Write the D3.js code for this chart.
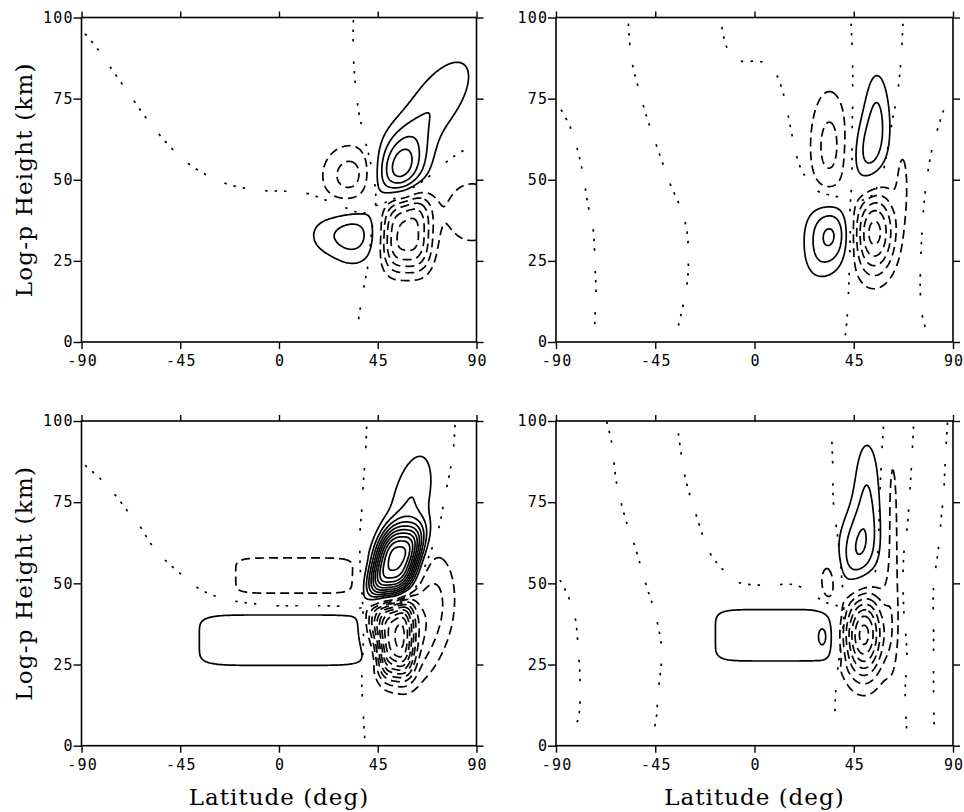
<!DOCTYPE html>
<html>
<head>
<meta charset="utf-8">
<script src="https://cdn.jsdelivr.net/npm/d3@7"></script>
<style>
  html, body { margin: 0; padding: 0; background: #fff; }
  svg { display: block; }
  .tick text { font-family: "DejaVu Sans Mono", monospace; font-size: 15px; letter-spacing: 1.2px;
               font-variant-numeric: slashed-zero; fill: #000; }
  .tick line { stroke: #000; stroke-width: 1.4px; }
  .title { font-family: "DejaVu Serif", serif; font-size: 23px; fill: #000; }
</style>
</head>
<body>
<svg id="chart" width="964" height="812"></svg>
<script>
// ---- axis ticks ----
const latMinorTicks = [-90, -75, -60, -45, -30, -15, 0, 15, 30, 45, 60, 75, 90];
const latMajorTicks = [-90, -45, 0, 45, 90];
const zMinorTicks = [0, 12.5, 25, 37.5, 50, 62.5, 75, 87.5, 100];
const zMajorTicks = [0, 25, 50, 75, 100];

// ---- field components: [lat, height, amplitude, latWidth, heightWidth, tilt, exponent] ----
const blobsA = [
  [55, 53, 4.6, 8, 8, 0.3],
  [72, 74, 1.85, 10, 11, 0.75],
  [34, 33, 2.4, 8, 6.5],
  [20, 33, 1.0, 7, 5],
  [33, 51, -2.6, 9.5, 7],
  [58, 34, -5.5, 9, 10, 0, 3],
  [88, 40, -1.6, 12, 9]
];
const blobsB = [
  [52, 58, 2.5, 6, 10, 0.15],
  [55.5, 74, 1.3, 4, 9],
  [34, 60, -2.4, 6.5, 13],
  [34.5, 33.5, 3.5, 7.5, 7.5],
  [28, 24, 0.6, 5, 5],
  [54, 34, -5.6, 7, 9.5],
  [67, 50, -1.4, 2, 8]
];
const blobsC = [
  [2, 32.5, 1.85, 37, 7.5, 0, 6],
  [7, 52.4, -1.6, 27, 5.5, 0, 6],
  [53, 56, 10, 8, 9, 0.4, 3],
  [60, 75, 2, 7, 12, 0.3],
  [53, 33.5, -8, 6.5, 10, 0, 3],
  [60, 34, -3, 8, 10],
  [43, 39, -3, 3.5, 5.5],
  [72, 46, -1.8, 7, 11]
];
const blobsD = [
  [9.5, 34, 1.6, 27.5, 8, 0, 6],
  [31.5, 33.6, 0.9, 2.5, 3.5],
  [47, 59, 3.0, 6.5, 10, 0.1],
  [51, 80, 1.7, 4.5, 12],
  [49.5, 34.5, -7.5, 6.5, 9.5],
  [62.5, 62, -1.5, 2.5, 28],
  [33.6, 51, -1.6, 3.5, 5.5]
];

// ---- zero contours: [lat, height] ----
const zeroA = [
  [[-88.4,95],[-82.3,90],[-77,84.8],[-71.7,79.7],[-66.4,74.6],[-61,69.4],[-55,64.3],[-48.9,59.7],[-41.3,55],[-34.5,52],[-24.6,48.9],[-16.3,47.5],[-5.6,46.6],[2,46.5],[12.6,45.8],[21,43.8],[29.3,41.7],[38.4,39.7],[44,42]],
  [[33.9,99.2],[33.9,88],[36.2,71.5],[39.2,62.2],[41.5,56],[43.8,47.9],[44,42],[42.3,34.5],[40.7,24.3],[38.4,16],[36.2,6.8]],
  [[44,42],[52,44],[62,48],[70.3,52],[79.4,57.1],[88.6,60.7]]
];
const zeroB = [
  [[-87.7,71.6],[-83.6,66.3],[-80.6,60.1],[-78.4,53.9],[-75.3,41.6],[-73.1,34.4],[-72.3,23.1],[-71.9,15.9],[-72.6,4.1]],
  [[-57.2,98.1],[-55.7,86.8],[-51.9,76.5],[-48.9,69.4],[-45.8,63.2],[-42.1,56],[-38.3,48.8],[-33.7,41.6],[-30.7,34.4],[-30,23.1],[-31,15.9],[-34.5,5.1]],
  [[-14.8,97.1],[-12.6,90.9],[-8,87],[-5.8,86.5],[3.3,86.3],[8,84],[10.1,82.2],[13.1,76.5],[15.4,69.4],[16.9,64.2],[19.2,57],[22.2,51.9],[28.3,46.7],[36,45],[43.5,44]],
  [[43.8,98.1],[44.5,84.8],[44.5,74.5],[44.2,62.2],[44.2,50.9],[43.4,41.6],[43.4,33.4],[42.6,14.9],[41.9,6.7],[41.1,1.5]],
  [[67.3,98.1],[66.4,86.8],[64.6,75.5],[62.8,69.4],[61,62],[58,52],[53,45],[48,43.5]],
  [[85.7,71.4],[80.4,59.1],[77.4,46.2],[75.9,33.4],[75.2,21.1],[75.2,14.9],[75.9,8.7],[78.2,2.6]]
];
const zeroC = [
  [[-88.4,86.4],[-80.8,81.8],[-74,76.7],[-69.4,72.6],[-63.3,67.5],[-58,61.8],[-52,57.2],[-45.1,53.1],[-36.8,48.5],[-29.2,46.1],[-19.3,44.4],[-11.7,43.8],[-1.1,43.1],[5,43.1],[18.7,43.1],[26.3,43],[30.8,42.9],[36.1,42.3],[40,43]],
  [[39.9,98.3],[39.5,90.6],[38.4,80.8],[37.7,72.6],[36.9,65.4],[37,55],[38,45],[38.5,35],[38,25],[37.7,19.2],[38.4,10],[39.2,0.7]],
  [[80.2,98.8],[79.5,91.6],[78,84.9],[75.6,76.7],[72.6,66.4],[68.8,59.2],[65.8,54.1],[61,47.5],[55,44.5]]
];
const zeroD = [
  [[-88.2,51],[-84.4,45.9],[-81.4,39.7],[-79.9,29.5],[-79.1,19.2],[-79.9,8.4],[-84.4,1.7]],
  [[-67,99.8],[-64.7,93.1],[-62.5,80.8],[-57.9,68.5],[-54.2,61.3],[-48.9,49],[-45.1,40.8],[-42.1,29.5],[-43.6,17.1],[-45.8,4.8],[-50.4,1.2]],
  [[-34.5,96.2],[-31.5,82.9],[-26.2,70.5],[-20.1,59.2],[-14.1,54.1],[-8,50.5],[-0.5,49.5],[7.1,49.5],[18.4,49.5],[26,46.9],[31.3,44.4],[38,43]],
  [[35.1,93.6],[35.5,85.9],[35.8,74.6],[38.1,62.3],[39.5,52],[40.5,43],[40,35],[38,25],[36.6,14.1],[36.6,6.4]],
  [[58.5,98.3],[57.8,91.1],[57,80],[56.5,70],[56,60],[54,50]],
  [[72.1,98.3],[70.6,79.8],[69.1,66.4],[67.6,58.2],[67.6,42.8],[69.1,28.4],[68.3,16.1],[69.1,3.8]],
  [[87.5,99.5],[86.5,88],[85.7,76.7],[85,72.6],[83.5,61.3],[81.2,49],[81.2,34.6],[81.2,16.1],[81.5,4.8]]
];

const xTitle = "Latitude (deg)";
const yTitle = "Log-p Height (km)";

// ---- layout ----
const panels = [
  { blobs: blobsA, zero: zeroA, left: 81.5, top: 17.5, width: 395, height: 324.5, yTitle: true,  xTitle: false },
  { blobs: blobsB, zero: zeroB, left: 556,  top: 17.5, width: 397, height: 324.5, yTitle: false, xTitle: false },
  { blobs: blobsC, zero: zeroC, left: 81.5, top: 421,  width: 395, height: 324.7, yTitle: true,  xTitle: true },
  { blobs: blobsD, zero: zeroD, left: 556,  top: 421,  width: 397, height: 324.7, yTitle: false, xTitle: true }
];

const svg = d3.select("#chart");
const LS = 1.2; // tick label letter spacing

function fieldAt(blobs, lat, z) {
  let v = 0;
  for (const [la, zc, a, sx, sz, tilt = 0, p = 2] of blobs) {
    const dx = (lat - (la + tilt * (z - zc))) / sx;
    const dz = (z - zc) / sz;
    v += a * Math.exp(-0.5 * (Math.pow(Math.abs(dx), p) + Math.pow(Math.abs(dz), p)));
  }
  return v;
}

panels.forEach((P, k) => {
  const x = d3.scaleLinear().domain([-90, 90]).range([P.left, P.left + P.width]);
  const y = d3.scaleLinear().domain([0, 100]).range([P.top + P.height, P.top]);
  const g = svg.append("g");

  const clipId = "clip" + k;
  svg.append("clipPath").attr("id", clipId)
    .append("rect").attr("x", P.left).attr("y", P.top).attr("width", P.width).attr("height", P.height);
  const plot = g.append("g").attr("clip-path", `url(#${clipId})`);

  // gridded field
  const dLat = 0.5, dZ = 0.5;
  const nx = Math.round(180 / dLat) + 1, nz = Math.round(100 / dZ) + 1;
  const vals = new Float64Array(nx * nz);
  for (let j = 0; j < nz; j++)
    for (let i = 0; i < nx; i++)
      vals[j * nx + i] = fieldAt(P.blobs, -90 + i * dLat, j * dZ);
  const neg = vals.map(v => -v);

  const ringPath = geom => geom.coordinates.map(poly => poly.map(ring =>
    "M" + ring.map(([gx, gy]) => x(-90 + (gx - 0.5) * dLat).toFixed(2) + "," + y((gy - 0.5) * dZ).toFixed(2)).join("L") + "Z"
  ).join("")).join("");

  const posLevels = d3.range(1, Math.floor(d3.max(vals)) + 1);
  const negLevels = d3.range(1, Math.floor(d3.max(neg)) + 1);

  const posC = d3.contours().size([nx, nz]).thresholds(posLevels)(vals);
  const negC = d3.contours().size([nx, nz]).thresholds(negLevels)(neg);

  plot.selectAll("path.pos").data(posC).join("path")
    .attr("class", "pos")
    .attr("d", ringPath)
    .attr("fill", "none").attr("stroke", "#000").attr("stroke-width", 1.7)
    .attr("stroke-linejoin", "round");

  plot.selectAll("path.neg").data(negC).join("path")
    .attr("class", "neg")
    .attr("d", ringPath)
    .attr("fill", "none").attr("stroke", "#000").attr("stroke-width", 1.7)
    .attr("stroke-dasharray", "9,5");

  // zero lines
  const line = d3.line().x(d => x(d[0])).y(d => y(d[1])).curve(d3.curveCatmullRom);
  plot.selectAll("path.zero").data(P.zero).join("path")
    .attr("class", "zero")
    .attr("d", line)
    .attr("fill", "none").attr("stroke", "#000").attr("stroke-width", 1.7)
    .attr("stroke-dasharray", "2.5,7,2.5,7,2.5,20");

  // axes
  const bottom = P.top + P.height;
  const right = P.left + P.width;
  const axB = g.append("g").attr("transform", `translate(0,${bottom})`);
  axB.call(d3.axisBottom(x).tickValues(latMinorTicks).tickSize(5).tickFormat(""));
  axB.call(d3.axisBottom(x).tickValues(latMajorTicks).tickSize(7).tickFormat(d => String(d)));
  axB.selectAll("text").attr("dx", LS / 2).attr("y", 24).attr("dy", 0);
  axB.select(".domain").remove();

  const axT = g.append("g").attr("transform", `translate(0,${P.top})`);
  axT.call(d3.axisTop(x).tickValues(latMinorTicks).tickSize(4).tickFormat(""));
  axT.call(d3.axisTop(x).tickValues(latMajorTicks).tickSize(6).tickFormat(""));
  axT.select(".domain").remove();

  const axL = g.append("g").attr("transform", `translate(${P.left},0)`);
  axL.call(d3.axisLeft(y).tickValues(zMinorTicks).tickSize(5).tickFormat(""));
  axL.call(d3.axisLeft(y).tickValues(zMajorTicks).tickSize(8).tickPadding(1).tickFormat(d => String(d)));
  axL.selectAll("text").attr("dx", LS);
  axL.select(".domain").remove();

  const axR = g.append("g").attr("transform", `translate(${right},0)`);
  axR.call(d3.axisRight(y).tickValues(zMinorTicks).tickSize(5).tickFormat(""));
  axR.call(d3.axisRight(y).tickValues(zMajorTicks).tickSize(7).tickFormat(""));
  axR.select(".domain").remove();

  g.append("rect")
    .attr("x", P.left).attr("y", P.top).attr("width", P.width).attr("height", P.height)
    .attr("fill", "none").attr("stroke", "#000").attr("stroke-width", 1.6);

  if (P.xTitle) {
    g.append("text").attr("class", "title")
      .attr("x", (P.left + right) / 2).attr("y", 805)
      .attr("text-anchor", "middle").style("letter-spacing", "1px")
      .text(xTitle);
  }
  if (P.yTitle) {
    g.append("text").attr("class", "title")
      .attr("transform", `translate(32,${P.top + P.height / 2}) rotate(-90)`)
      .attr("text-anchor", "middle").style("letter-spacing", "1.2px")
      .text(yTitle);
  }
});
</script>
</body>
</html>
